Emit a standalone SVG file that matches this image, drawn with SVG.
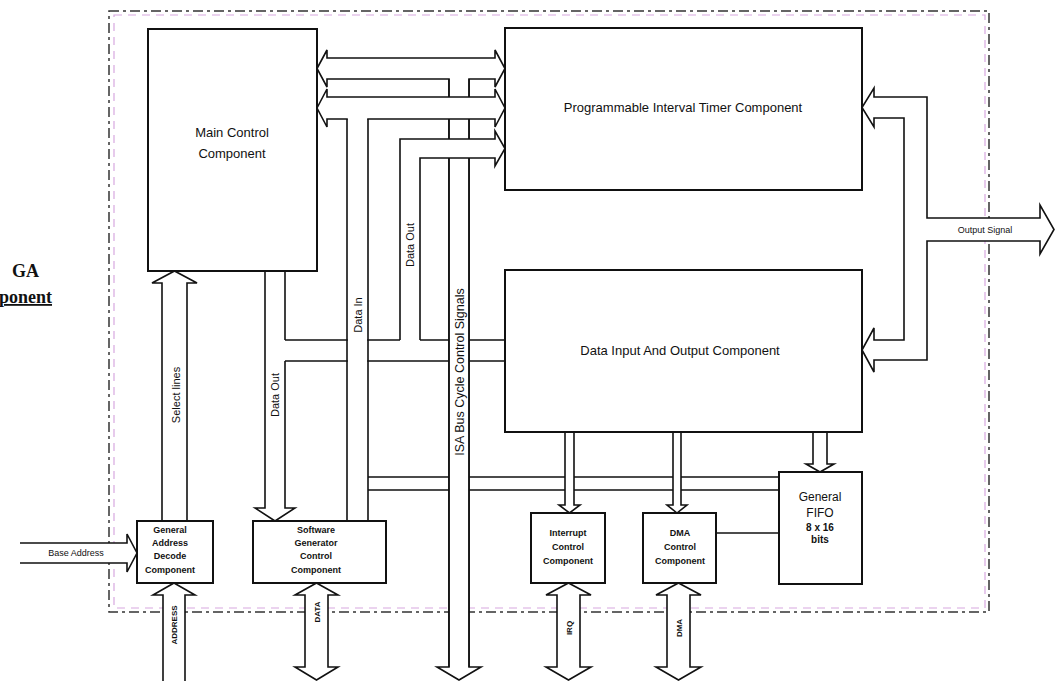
<svg xmlns="http://www.w3.org/2000/svg" width="1056" height="681" viewBox="0 0 1056 681">
<style>
  .box{fill:#fff;stroke:#111;stroke-width:2}
  .bus{fill:#fff;stroke:#111;stroke-width:1.6;stroke-linejoin:miter}
  .ln{fill:none;stroke:#111;stroke-width:1.6}
  .wf{fill:#fff;stroke:none}
  .t{font-family:"Liberation Sans",Arial,sans-serif;fill:#111}
  .big{font-size:13px}
  .sm{font-size:9px;font-weight:bold}
  .lb{font-size:11px}
  .vl{font-size:8px;font-weight:bold}
  .border{fill:none;stroke:#333;stroke-width:1.5;stroke-dasharray:10 4 3 4}
  .border2{fill:none;stroke:#d8a8e0;stroke-width:1.2;stroke-dasharray:8 6}
</style>
<rect width="1056" height="681" fill="#fff"/>
<g id="fpga-border">
  <rect class="border" x="109" y="11" width="880" height="601"/>
  <rect class="border2" x="114" y="15" width="871" height="593"/>
</g>
<g id="fpga-label">
  <text class="t" x="12" y="277" style="font-family:'Liberation Serif',serif;font-size:18px;font-weight:bold">GA</text>
  <text class="t" x="-1" y="303" style="font-family:'Liberation Serif',serif;font-size:18px;font-weight:bold;text-decoration:underline">ponent</text>
</g>
<g id="connectors">
  <rect class="wf" x="285" y="340" width="220" height="21"/>
  <path class="ln" d="M285,340 H400 M420,340 H505 M285,361 H505"/>
  <path class="ln" d="M368,477 H779 M368,490 H779"/>
  <polygon class="bus" points="317,68.5 327,50 327,58 495,58 495,50 505,68.5 495,87 495,79 327,79 327,87"/>
  <path class="bus" d="M449,79 V667 H437 L459,680 L481,667 H469 V79"/>
  <rect class="wf" x="449.8" y="78" width="18.4" height="589"/>
  <path class="ln" d="M449,79 V667 M469,79 V667"/>
  <polygon class="bus" points="317,108 327,89 327,97 495,97 495,89 505,108 495,127 495,119 327,119 327,127"/>
  <path class="wf" d="M505,148.5 L495,131 L495,139 L400,139 L400,341 L420,341 L420,158 L495,158 L495,166 Z"/>
  <path class="ln" d="M400,340 L400,139 L495,139 L495,131 L505,148.5 L495,166 L495,158 L420,158 L420,340"/>
  <rect class="wf" x="347.8" y="118" width="19.4" height="403"/>
  <path class="ln" d="M347,119 V521 M368,119 V521"/>
  <path class="wf" d="M265,272 V508 H255 L275,521 L295,508 H285 V272 Z"/>
  <path class="ln" d="M265,271 V508 H255 L275,521 L295,508 H285 V361 M285,340 V271"/>
  <path class="bus" d="M162,521 V283 H152 L174.5,271 L197,283 H187 V521"/>
  <path class="bus" d="M20,543 H127 V534 L137,553 L127,572 V563 H20"/>
  <path class="bus" d="M565,433 V505 H559 L569.5,513 L580,505 H574 V433"/>
  <path class="bus" d="M673,433 V505 H667 L677,513 L687,505 H681 V433"/>
  <path class="bus" d="M813,433 V464 H806 L820,472 L834,464 H827 V433"/>
  <path class="ln" d="M716,533 H779"/>
  <polygon class="bus" points="874,97 927,97 927,218 1040,218 1040,205 1054,229.5 1040,254 1040,241 927,241 927,360 874,360 874,372 862,350 874,328 874,340 904,340 904,118 874,118 874,127 862,107.5 874,88"/>
  <polygon class="bus" points="174,583 195,595 185,595 185,690 163,690 163,595 153,595"/>
  <polygon class="bus" points="316.5,583 338,595 328,595 328,667 338,667 316.5,680 295,667 305,667 305,595 295,595"/>
  <polygon class="bus" points="568.5,583 591,595 580,595 580,667 591,667 568.5,680 546,667 557,667 557,595 546,595"/>
  <polygon class="bus" points="678.5,583 701,595 690,595 690,667 701,667 678.5,680 656,667 667,667 667,595 656,595"/>
  <text class="t lb" transform="translate(180,395) rotate(-90)" text-anchor="middle">Select lines</text>
  <text class="t lb" transform="translate(279,395) rotate(-90)" text-anchor="middle">Data Out</text>
  <text class="t lb" transform="translate(362,315) rotate(-90)" text-anchor="middle">Data In</text>
  <text class="t lb" transform="translate(414,245) rotate(-90)" text-anchor="middle">Data Out</text>
  <text class="t" transform="translate(463.5,372) rotate(-90)" text-anchor="middle" style="font-size:12.5px">ISA Bus Cycle Control Signals</text>
  <text class="t vl" transform="translate(177,625) rotate(-90)" text-anchor="middle">ADDRESS</text>
  <text class="t vl" transform="translate(319.5,612) rotate(-90)" text-anchor="middle">DATA</text>
  <text class="t vl" transform="translate(571.5,628) rotate(-90)" text-anchor="middle">IRQ</text>
  <text class="t vl" transform="translate(681.5,628) rotate(-90)" text-anchor="middle">DMA</text>
  <text class="t" x="76" y="556" text-anchor="middle" style="font-size:9px">Base Address</text>
  <text class="t" x="985" y="233" text-anchor="middle" style="font-size:9px">Output Signal</text>
</g>
<g id="main-control">
  <rect class="box" x="148" y="29" width="169" height="242"/>
  <text class="t big" x="232" y="137" text-anchor="middle">Main Control</text>
  <text class="t big" x="232" y="158" text-anchor="middle">Component</text>
</g>
<g id="pit">
  <rect class="box" x="505" y="28" width="357" height="162"/>
  <text class="t big" x="683" y="112" text-anchor="middle">Programmable Interval Timer Component</text>
</g>
<g id="data-io">
  <rect class="box" x="505" y="270" width="357" height="162"/>
  <text class="t big" x="680" y="355" text-anchor="middle">Data Input And Output Component</text>
</g>
<g id="address-decode">
  <rect class="box" x="137" y="521" width="76" height="62"/>
  <text class="t sm" x="170" y="533" text-anchor="middle">General</text>
  <text class="t sm" x="170" y="546" text-anchor="middle">Address</text>
  <text class="t sm" x="170" y="559" text-anchor="middle">Decode</text>
  <text class="t sm" x="170" y="573" text-anchor="middle">Component</text>
</g>
<g id="software-generator">
  <rect class="box" x="253" y="521" width="133" height="62"/>
  <text class="t sm" x="316" y="533" text-anchor="middle">Software</text>
  <text class="t sm" x="316" y="546" text-anchor="middle">Generator</text>
  <text class="t sm" x="316" y="559" text-anchor="middle">Control</text>
  <text class="t sm" x="316" y="573" text-anchor="middle">Component</text>
</g>
<g id="interrupt-control">
  <rect class="box" x="531" y="513" width="74" height="70"/>
  <text class="t sm" x="568" y="536" text-anchor="middle">Interrupt</text>
  <text class="t sm" x="568" y="550" text-anchor="middle">Control</text>
  <text class="t sm" x="568" y="564" text-anchor="middle">Component</text>
</g>
<g id="dma-control">
  <rect class="box" x="643" y="513" width="73" height="70"/>
  <text class="t sm" x="680" y="536" text-anchor="middle">DMA</text>
  <text class="t sm" x="680" y="550" text-anchor="middle">Control</text>
  <text class="t sm" x="680" y="564" text-anchor="middle">Component</text>
</g>
<g id="fifo">
  <rect class="box" x="779" y="472" width="83" height="112"/>
  <text class="t" x="820" y="501" text-anchor="middle" style="font-size:12px">General</text>
  <text class="t" x="820" y="517" text-anchor="middle" style="font-size:12px">FIFO</text>
  <text class="t" x="820" y="531" text-anchor="middle" style="font-size:10px;font-weight:bold">8 x 16</text>
  <text class="t" x="820" y="543" text-anchor="middle" style="font-size:10px;font-weight:bold">bits</text>
</g>
</svg>
